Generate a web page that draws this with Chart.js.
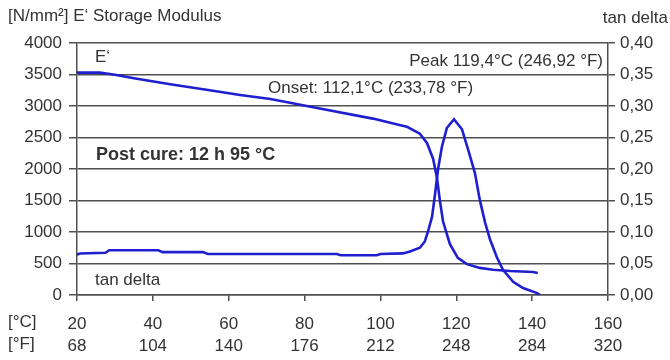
<!DOCTYPE html>
<html>
<head>
<meta charset="utf-8">
<script src="https://cdn.jsdelivr.net/npm/chart.js@4"></script>
<style>
  body { margin: 0; background: #fff; }
</style>
</head>
<body>
<canvas id="myChart" width="670" height="360"></canvas>
<script>
// tick labels
const celsiusTicks = ['20', '40', '60', '80', '100', '120', '140', '160'];
const fahrenheitTicks = ['68', '104', '140', '176', '212', '248', '284', '320'];
const modulusTicks = ['0', '500', '1000', '1500', '2000', '2500', '3000', '3500', '4000'];
const tanDeltaTicks = ['0,00', '0,05', '0,10', '0,15', '0,20', '0,25', '0,30', '0,35', '0,40'];

// E' storage modulus [N/mm²] over temperature [°C]
const storageTemps = [20, 26, 30, 35, 45, 55, 63, 71, 84, 98, 105, 107, 110.4, 112.3, 113.9, 114.9,
  115.7, 116.5, 118.3, 120.4, 122.8, 126.2, 129.7, 134.2, 140.2, 141.5];
const storageModulus = [3530, 3530, 3495, 3440, 3340, 3250, 3175, 3110, 2960, 2800, 2700, 2670, 2560, 2410, 2160, 1860,
  1490, 1170, 810, 590, 490, 430, 400, 380, 365, 350];

// tan delta over temperature [°C]
const tanDeltaTemps = [20, 20.8, 27.5, 28.5, 41.4, 42.6, 53.2, 54.5, 88.5, 89.5, 99.1, 100, 105.9, 107.8,
  110.4, 111.7, 112.5, 113.6, 114.4, 115.2, 116.2, 117.5, 119.4, 121.5, 123.1, 124.9, 126.2, 127.6,
  128.9, 130.7, 132.3, 135, 137.6, 141.3, 142.1];
const tanDeltaValues = [0.064, 0.066, 0.067, 0.071, 0.071, 0.068, 0.068, 0.065, 0.065, 0.063, 0.063, 0.065, 0.066, 0.069,
  0.075, 0.085, 0.1, 0.124, 0.16, 0.2, 0.235, 0.265, 0.279, 0.263, 0.231, 0.194, 0.151, 0.115,
  0.088, 0.06, 0.04, 0.021, 0.011, 0.003, 0];

const FONT = '"Liberation Sans", Arial, sans-serif';
const TEXT = '#333';
const GRID = '#505050';
const BLUE = '#1f1fd0';

const notes = {
  id: 'notes',
  afterDraw(chart) {
    const ctx = chart.ctx;
    ctx.save();
    ctx.fillStyle = TEXT;
    ctx.textBaseline = 'middle';
    ctx.font = '17px ' + FONT;
    ctx.textAlign = 'left';
    ctx.fillText('[N/mm\u00b2] E\u2018 Storage Modulus', 8, 16);
    ctx.fillText('E\u2018', 95, 57);
    ctx.fillText('Onset: 112,1\u00b0C (233,78 \u00b0F)', 268, 88);
    ctx.fillText('tan delta', 95, 280);
    ctx.fillText('[\u00b0C]', 8, 322);
    ctx.fillText('[\u00b0F]', 8, 344);
    ctx.textAlign = 'right';
    ctx.fillText('tan delta', 668, 18);
    ctx.fillText('Peak 119,4\u00b0C (246,92 \u00b0F)', 603, 61);
    ctx.textAlign = 'left';
    ctx.font = 'bold 18px ' + FONT;
    ctx.fillText('Post cure: 12 h 95 \u00b0C', 96, 155);
    ctx.restore();
  }
};

const ctx = document.getElementById('myChart');

new Chart(ctx, {
  type: 'line',
  data: {
    datasets: [{
      label: "E'",
      data: storageTemps.map((t, i) => ({ x: t, y: storageModulus[i] })),
      yAxisID: 'y',
      borderColor: BLUE,
      borderWidth: 2.6,
      pointRadius: 0,
      tension: 0
    }, {
      label: 'tan delta',
      data: tanDeltaTemps.map((t, i) => ({ x: t, y: tanDeltaValues[i] })),
      yAxisID: 'y2',
      borderColor: BLUE,
      borderWidth: 2.6,
      pointRadius: 0,
      tension: 0
    }]
  },
  options: {
    responsive: false,
    animation: false,
    layout: { padding: { top: 43, left: 0, right: 0, bottom: 0 } },
    plugins: {
      legend: { display: false },
      tooltip: { enabled: false }
    },
    scales: {
      x: {
        type: 'linear',
        min: 20,
        max: 160,
        afterFit: s => { s.height = 65; },
        ticks: {
          stepSize: 20,
          autoSkip: false,
          maxRotation: 0,
          color: TEXT,
          font: { family: FONT, size: 17, lineHeight: 1.3 },
          padding: 12,
          callback: (v) => {
            const i = Math.round((v - 20) / 20);
            return [celsiusTicks[i], fahrenheitTicks[i]];
          }
        },
        grid: { drawOnChartArea: false, color: GRID, lineWidth: 1.5, tickLength: 6 },
        border: { color: GRID, width: 1.5 }
      },
      y: {
        position: 'left',
        min: 0,
        max: 4000,
        afterFit: s => { s.width = 77; },
        ticks: {
          stepSize: 500,
          color: TEXT,
          font: { family: FONT, size: 17 },
          padding: 7,
          callback: (v) => modulusTicks[Math.round(v / 500)]
        },
        grid: { color: GRID, lineWidth: 1.5, tickLength: 8 },
        border: { color: GRID, width: 1.5 }
      },
      y2: {
        position: 'right',
        min: 0,
        max: 0.4,
        afterFit: s => { s.width = 62; },
        ticks: {
          stepSize: 0.05,
          color: TEXT,
          font: { family: FONT, size: 17 },
          padding: 5,
          callback: (v) => tanDeltaTicks[Math.round(v / 0.05)]
        },
        grid: { drawOnChartArea: false, color: GRID, lineWidth: 1.5, tickLength: 7 },
        border: { color: GRID, width: 1.5 }
      }
    }
  },
  plugins: [notes]
});
</script>
</body>
</html>
